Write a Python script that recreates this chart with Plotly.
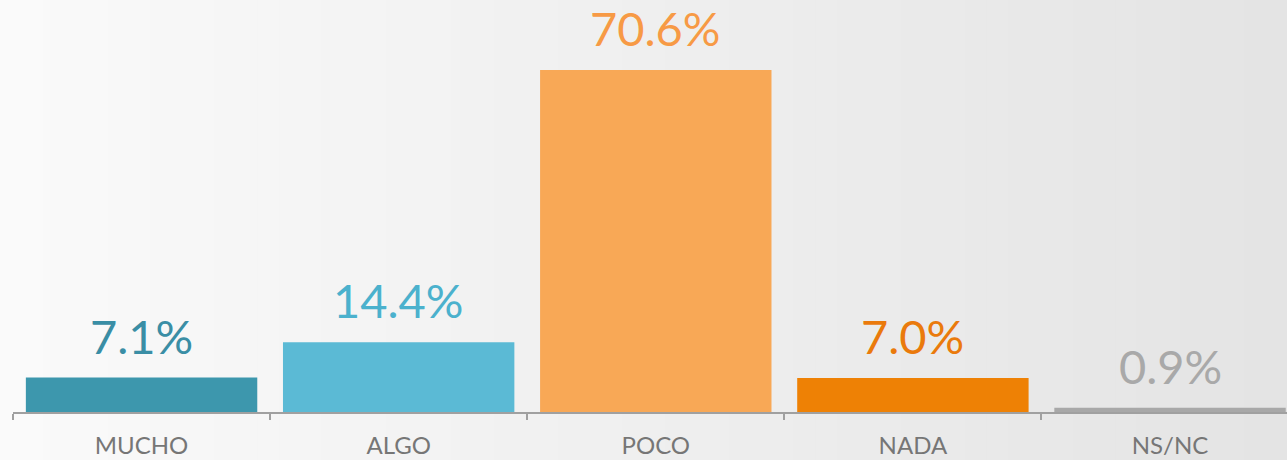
import plotly.graph_objects as go

categories = ["MUCHO", "ALGO", "POCO", "NADA", "NS/NC"]
values = [7.1, 14.4, 70.6, 7.0, 0.9]
labels = ["7.1%", "14.4%", "70.6%", "7.0%", "0.9%"]
bar_colors = ["#3d97ad", "#5bbad5", "#f8a856", "#ee8105", "#a8a8a8"]
text_colors = ["#3a8ea5", "#4bb1cd", "#f79a45", "#ea7a0c", "#a9a9a9"]

W, H = 1287, 460
ml, mr, mt, mb = 13, 0, 0, 48

fig = go.Figure()
fig.add_trace(go.Bar(
    x=categories, y=values,
    marker=dict(color=bar_colors, line=dict(width=0)),
    width=0.9, hoverinfo="skip",
))

for cat, v, t, c in zip(categories, values, labels, text_colors):
    fig.add_annotation(x=cat, y=v, text=t, showarrow=False, yanchor="bottom",
                       yshift=12, font=dict(family="Lato", size=47, color=c))

# background gradient (white -> light gray), drawn as thin strips
n = 60
pw = W - ml - mr
shapes = []
for k in range(n):
    f = k / (n - 1)
    g = round(250 - (250 - 228) * f)
    x0 = (-ml + k * W / n) / pw
    x1 = (-ml + (k + 1) * W / n) / pw + 0.001
    shapes.append(dict(type="rect", xref="paper", yref="paper", x0=x0, x1=x1,
                       y0=-mb / (H - mt - mb) - 0.01, y1=1.01, layer="below",
                       line=dict(width=0), fillcolor=f"rgb({g},{g},{g})"))

fig.update_layout(
    width=W, height=H,
    margin=dict(l=ml, r=mr, t=mt, b=mb),
    paper_bgcolor="#f3f3f3", plot_bgcolor="rgba(0,0,0,0)",
    shapes=shapes, showlegend=False,
    xaxis=dict(type="category", range=[-0.5, 4.455],
               tickson="boundaries", ticks="outside", ticklen=6, tickcolor="#a0a0a0",
               tickwidth=1.5, showline=True, linecolor="#a0a0a0", linewidth=1.5,
               showgrid=False, zeroline=False, ticklabelstandoff=11,
               tickfont=dict(family="Lato", size=24, color="#767676")),
    yaxis=dict(range=[0, 85.05], visible=False, showgrid=False, zeroline=False),
)

fig.write_html("out.html", config={"displayModeBar": False},
               post_script="document.body.style.margin='0';document.body.style.overflow='hidden';")
